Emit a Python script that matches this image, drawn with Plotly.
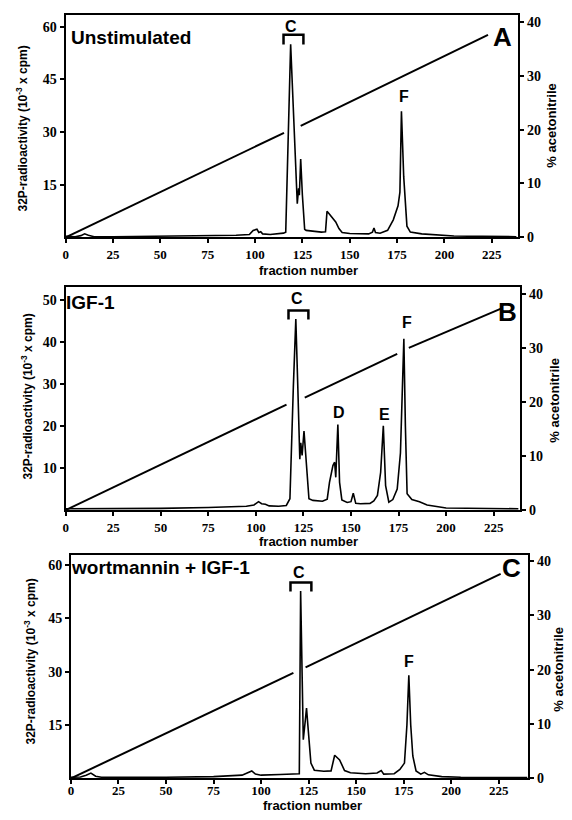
import plotly.graph_objects as go

# ---------------- data ----------------
xticks = [0, 25, 50, 75, 100, 125, 150, 175, 200, 225]
left_ticks_A = [15, 30, 45, 60]
left_ticks_B = [10, 20, 30, 40, 50]
left_ticks_C = [15, 30, 45, 60]
right_ticks = [0, 10, 20, 30, 40]

frac_A = [0, 5, 8, 10, 12, 15, 25, 50, 75, 90, 97, 99, 101, 102, 103, 104, 108, 112, 115, 116.2,
          118.8, 122.3, 123, 123.4, 124.1, 125, 126.2, 127, 130, 135, 137.2, 138, 139, 140.8, 142.6,
          144.3, 146, 150, 155, 160, 162, 162.8, 163.6, 166, 170, 173, 175.5, 176.5, 177.3, 178.5,
          180.2, 182, 188, 195, 205, 220, 238]
cpm_A = [0.3, 0.2, 0.5, 1.0, 0.6, 0.2, 0.2, 0.3, 0.4, 0.6, 0.8, 2.0, 2.3, 1.4, 1.6, 1.0, 0.8, 1.0, 1.2, 1.5,
         55, 9.6, 14, 12, 22.3, 12, 2.3, 2.0, 1.8, 1.5, 1.6, 7.4, 6.8, 5.6, 4.4,
         2.5, 1.4, 1.1, 1.0, 1.0, 1.5, 2.7, 1.4, 1.2, 2.0, 5.0, 9.0, 12.9, 35.9, 17.3,
         3.2, 1.5, 1.0, 0.7, 0.4, 0.3, 0.2]

frac_B = [0, 25, 50, 75, 95, 99, 101.4, 103, 105, 107, 112, 116, 117.9, 119.7, 121, 122, 123.1, 123.6,
          124.3, 125.3, 126.7, 127.9, 130, 135, 137.5, 138.7, 140.5, 141.4, 142, 143.1, 144, 145.2,
          148, 150, 151.2, 152.5, 155, 160, 162, 163.9, 165.6, 167, 168.2, 169.9, 172, 174.3, 176,
          177.8, 178.6, 179.5, 182, 186, 190, 195, 200, 238]
cpm_B = [0.3, 0.3, 0.4, 0.6, 0.9, 1.2, 2.0, 1.5, 1.4, 1.0, 0.9, 1.1, 2.7, 29.4, 45.5, 30, 12.1, 16,
         13, 18.8, 9, 2.7, 2.3, 2.1, 2.6, 6.6, 10.6, 11.4, 7.8, 20.4, 6.6, 2.4,
         1.8, 2.0, 4.0, 1.6, 1.5, 1.6, 2.2, 3.5, 9.0, 20.1, 5.8, 1.9, 2.5, 5.0, 13.6,
         40.8, 20, 3.9, 2.5, 2.0, 1.2, 0.8, 0.5, 0.3]

frac_C = [0, 5, 8, 10.5, 13, 16, 50, 75, 90, 93, 95.1, 97, 100, 110, 119.6, 120.1, 120.8, 121.5, 122.2,
          123.2, 123.9, 124.6, 125.3, 126.2, 128, 133, 136.8, 138.7, 141.3, 143.9, 147, 155, 161,
          163.2, 164.5, 170, 173, 175.4, 176.7, 177.7, 178.7, 179.8, 181.5, 184, 185.9, 188, 195,
          205, 240]
cpm_C = [0.3, 0.4, 0.9, 1.5, 0.6, 0.3, 0.3, 0.5, 0.9, 1.5, 2.1, 1.2, 0.9, 1.1, 1.2, 1.3, 52.7, 30, 10.9,
         16, 19.8, 15, 10, 4.3, 2.3, 2.0, 2.1, 6.5, 5.2, 2.2, 1.6, 1.3, 1.5,
         2.2, 1.2, 1.3, 2.5, 4.3, 15, 29, 15, 6.3, 2.1, 1.2, 1.7, 1.0, 0.5,
         0.3, 0.2]

# acetonitrile gradient (% , right axis), with gaps where labels/peaks cross
acn_frac_A = [0, 115.3, None, 124.1, 223]
acn_pct_A = [0, 19.4, None, 20.7, 37.6]
acn_frac_B = [0, 116.1, None, 125.7, 174.3, None, 180.4, 229.8]
acn_pct_B = [0, 19.5, None, 20.8, 28.9, None, 30.0, 37.4]
acn_frac_C = [0, 117, None, 123.4, 226]
acn_pct_C = [0, 19.4, None, 20.4, 37.6]

panel_titles = ["Unstimulated", "IGF-1", "wortmannin + IGF-1"]
panel_letters = ["A", "B", "C"]

# ---------------- layout helpers ----------------
W, H = 572, 820
def px(x):
    return x / W
def py(y):
    return 1 - y / H

panels = [
    dict(frac=frac_A, cpm=cpm_A, af=acn_frac_A, ap=acn_pct_A, lt=left_ticks_A,
         x0=63, x1=518, top=14, bot=239, xr=[0, 239], ylr=[0, 63.4], yrr=[0, 41.3], so=0),
    dict(frac=frac_B, cpm=cpm_B, af=acn_frac_B, ap=acn_pct_B, lt=left_ticks_B,
         x0=63, x1=520, top=289, bot=514.7, xr=[0, 239], ylr=[0, 53.2], yrr=[0, 41.3], so=0),
    dict(frac=frac_C, cpm=cpm_C, af=acn_frac_C, ap=acn_pct_C, lt=left_ticks_C,
         x0=68.3, x1=528, top=560, bot=786, xr=[0, 240.5], ylr=[0, 62.9], yrr=[0, 41.1], so=-5),
]

tickfont = dict(family="Liberation Serif", size=13, color="black", weight="bold")
sansb = "Liberation Sans"

fig = go.Figure()
layout = dict(width=W, height=H, margin=dict(l=0, r=0, t=0, b=0),
              paper_bgcolor="white", plot_bgcolor="white", showlegend=False)
annotations = []
shapes = []

for i, p in enumerate(panels):
    xn = "x" if i == 0 else f"x{i+1}"
    yl_idx = 2 * i + 1
    yr_idx = 2 * i + 2
    yln = "y" if yl_idx == 1 else f"y{yl_idx}"
    yrn = f"y{yr_idx}"
    fig.add_trace(go.Scatter(x=p["frac"], y=p["cpm"], mode="lines", xaxis=xn, yaxis=yln,
                             line=dict(color="black", width=1.6)))
    fig.add_trace(go.Scatter(x=p["af"], y=p["ap"], mode="lines", xaxis=xn, yaxis=yrn,
                             line=dict(color="black", width=2), connectgaps=False))
    xkey = "xaxis" if i == 0 else f"xaxis{i+1}"
    ylkey = "yaxis" if yl_idx == 1 else f"yaxis{yl_idx}"
    yrkey = f"yaxis{yr_idx}"
    dom_x = [px(p["x0"]), px(p["x1"])]
    dom_y = [py(p["bot"]), py(p["top"])]
    layout[xkey] = dict(domain=dom_x, range=p["xr"], anchor=yln, tickvals=xticks,
                        showline=True, linecolor="black", linewidth=2, mirror=True,
                        ticks="outside", ticklen=4, tickwidth=1.5, tickcolor="black",
                        ticklabelstandoff=p["so"],
                        tickfont=tickfont, showgrid=False, zeroline=False)
    layout[ylkey] = dict(domain=dom_y, range=p["ylr"], anchor=xn, tickvals=p["lt"],
                         showline=True, linecolor="black", linewidth=2,
                         ticks="outside", ticklen=4, tickwidth=1.5, tickcolor="black",
                         tickfont=dict(tickfont, size=14), showgrid=False, zeroline=False)
    layout[yrkey] = dict(domain=dom_y, range=p["yrr"], anchor=xn, overlaying=yln, side="right",
                         tickvals=right_ticks, showline=True, linecolor="black", linewidth=2,
                         ticks="outside", ticklen=4, tickwidth=1.5, tickcolor="black",
                         tickfont=dict(tickfont, size=14), showgrid=False, zeroline=False)

# axis titles
left_title_pos = [(19, 129), (24, 400), (27, 668)]
right_title_pos = [(552, 126), (554, 404), (559, 676)]
xtitle_pos = [(307, 272), (307, 547), (311, 813)]
for i in range(3):
    annotations.append(dict(x=px(left_title_pos[i][0]), y=py(left_title_pos[i][1]), xref="paper", yref="paper",
                            text="32P-radioactivity (10<sup>-3</sup> x cpm)", textangle=-90, showarrow=False,
                            font=dict(family=sansb, size=12, color="black", weight="bold"),
                            xanchor="center", yanchor="middle"))
    annotations.append(dict(x=px(right_title_pos[i][0]), y=py(right_title_pos[i][1]), xref="paper", yref="paper",
                            text="% acetonitrile", textangle=-90, showarrow=False,
                            font=dict(family=sansb, size=13, color="black", weight="bold"),
                            xanchor="center", yanchor="middle"))
    annotations.append(dict(x=px(xtitle_pos[i][0]), y=py(xtitle_pos[i][1]), xref="paper", yref="paper",
                            text="fraction number", showarrow=False,
                            font=dict(family=sansb, size=13, color="black", weight="bold"),
                            xanchor="center", yanchor="middle"))

# panel titles
title_pos = [(66, 37), (61, 305), (66, 573)]
for i in range(3):
    annotations.append(dict(x=px(title_pos[i][0]), y=py(title_pos[i][1]), xref="paper", yref="paper",
                            text=panel_titles[i], showarrow=False,
                            font=dict(family=sansb, size=19, color="black", weight="bold"),
                            xanchor="left", yanchor="middle"))

# panel letters
letter_pos = [(502, 36), (507, 314), (511, 573)]
for i in range(3):
    annotations.append(dict(x=px(letter_pos[i][0]), y=py(letter_pos[i][1]), xref="paper", yref="paper",
                            text=panel_letters[i], showarrow=False,
                            font=dict(family=sansb, size=26, color="black", weight="bold"),
                            xanchor="center", yanchor="middle"))

# peak labels
peak_labels = [("C", 290, 26), ("F", 403, 97), ("C", 296, 301), ("F", 406, 325), ("D", 338, 416),
               ("E", 384, 418), ("C", 298, 578), ("F", 408, 668)]
for t, x, y in peak_labels:
    annotations.append(dict(x=px(x), y=py(y), xref="paper", yref="paper", text=t, showarrow=False,
                            font=dict(family=sansb, size=16, color="black", weight="bold"),
                            xanchor="center", yanchor="middle"))

# brackets above peak C
brackets = [(282, 302, 34, 44), (287, 307, 313, 322), (289, 310, 588, 597)]
for xa, xb, yt, yb in brackets:
    shapes.append(dict(type="path", xref="paper", yref="paper",
                       path=f"M {px(xa)},{py(yb)} L {px(xa)},{py(yt)} L {px(xb)},{py(yt)} L {px(xb)},{py(yb)}",
                       line=dict(color="black", width=2.5)))

layout["annotations"] = annotations
layout["shapes"] = shapes
fig.update_layout(**layout)
fig.write_html("out.html")
